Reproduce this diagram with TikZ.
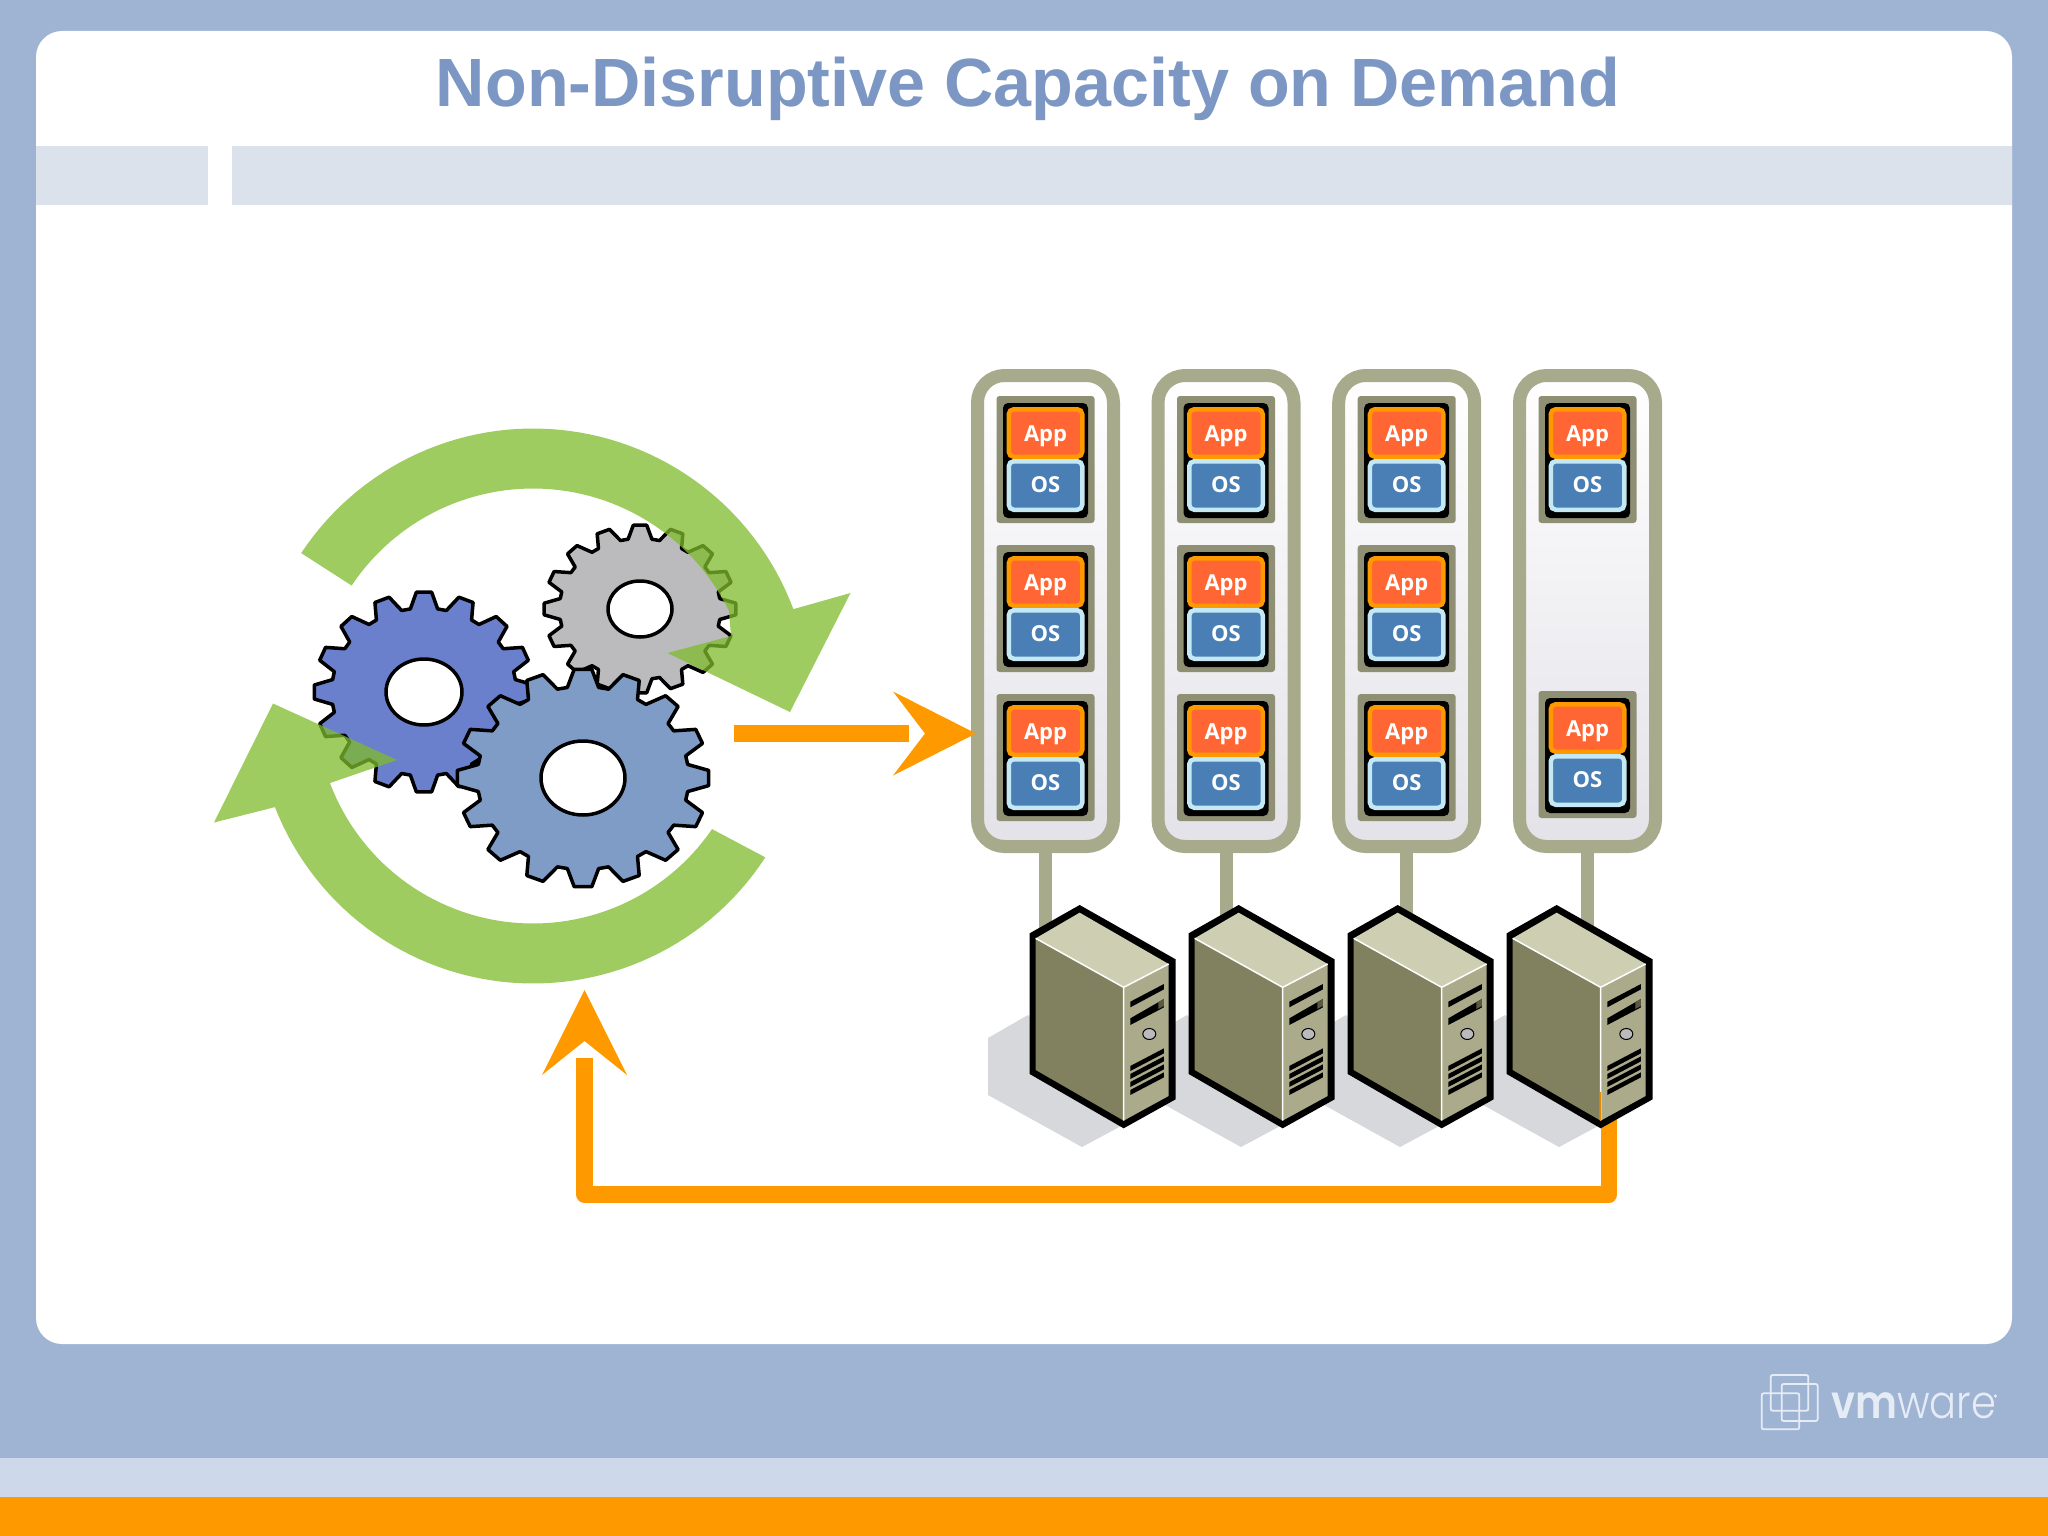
\documentclass[tikz,border=0pt]{standalone}
\usepackage{fontspec}
\usepackage{graphicx}
\setmainfont{Liberation Sans}
\newfontfamily\boxfont{Open Sans}
\newfontfamily\logofont{Poppins}[UprightFont=*-Light,BoldFont=*-SemiBold]
\usetikzlibrary{calc}

\definecolor{slide}{HTML}{9FB3D3}
\definecolor{band}{HTML}{DCE2EC}
\definecolor{lowband}{HTML}{CDD8EA}
\definecolor{vmorange}{HTML}{FF9900}
\definecolor{titleblue}{HTML}{7C97C4}
\definecolor{rackline}{HTML}{A8AA8C}
\definecolor{rackbottom}{HTML}{E2E2E8}
\definecolor{modfill}{HTML}{8E8F73}
\definecolor{appfill}{HTML}{FF6633}
\definecolor{osfill}{HTML}{4A7FB5}
\definecolor{osline}{HTML}{C5E8F5}
\definecolor{arrowgreen}{HTML}{80BB2B}
\definecolor{shadowgrey}{HTML}{D6D8DC}
\definecolor{topface}{HTML}{CECFB2}
\definecolor{leftface}{HTML}{81805F}
\definecolor{rightface}{HTML}{ABAB8C}
\definecolor{logoline}{HTML}{E6ECF6}
\definecolor{cogdark}{HTML}{6A80CC}
\definecolor{coglight}{HTML}{7F9CC6}
\definecolor{coggrey}{HTML}{BBBBBD}

\tikzset{
  rack/.style={draw=rackline,line width=13pt,rounded corners=27pt,top color=white,bottom color=rackbottom,
    minimum width=136pt,minimum height=471pt,inner sep=0pt},
  module/.style={fill=modfill,rounded corners=3pt,minimum width=98pt,minimum height=127pt,inner sep=0pt},
  frame/.style={fill=black,rounded corners=5pt,minimum width=85pt,minimum height=115pt,inner sep=0pt},
  app/.style={draw=vmorange,fill=appfill,line width=4.5pt,rounded corners=5pt,text=white,inner sep=0pt,
    minimum width=73.5pt,text depth=15.75pt,text height=31.75pt,font=\boxfont\fontsize{22}{22}\selectfont\bfseries},
  os/.style={draw=osline,fill=osfill,line width=4.5pt,rounded corners=5pt,text=white,inner sep=0pt,
    minimum width=73.5pt,text depth=17pt,text height=31.5pt,font=\boxfont\fontsize{22}{22}\selectfont\bfseries},
  stem/.style={draw=rackline,line width=13pt},
  flow/.style={draw=vmorange,line width=16.5pt,line join=round},
  cog/.style={draw=black,line width=3.5pt,line join=round},
  cycle arrow/.style={fill=arrowgreen,fill opacity=.75},
  logo/.style={draw=logoline,line width=1.8pt,rounded corners=2pt},
}

% one gear, centre #1,#2, radii #3,#4, hole radii #5,#6, colour #7
\newcommand\cog[7]{%
  \begin{scope}[shift={(#1,#2)},x=#3pt,y=#4pt]
    \filldraw[cog,fill=#7] (-8.5:.84) \foreach \a in {0,22.5,...,337.5} {
      -- ({\a-8.5}:.84) -- ({\a-4}:1) -- ({\a+4}:1) -- ({\a+8.5}:.84)} -- cycle;
  \end{scope}
  \filldraw[cog,fill=white] (#1,#2) ellipse [x radius=#5pt,y radius=#6pt];
}

% shadow of a server, #1 = shift from the rightmost one
\newcommand\srvshadow[1]{%
  \fill[shadowgrey,shift={(#1,0)}] (1505,1015) -- (1465,1038) -- (1465,1095) -- (1559,1147) -- (1600,1125) -- cycle;
}

% one server, #1 = shift from the rightmost one
\newcommand\server[1]{%
  \begin{scope}[shift={(#1,0)},shift={(1450,850)},x=.3333pt,y=-.3333pt]
    \fill[black] (320,165) -- (608,328) -- (608,748) -- (452,835) -- (170,672) -- (170,250) -- cycle;
    \fill[topface] (320,188) -- (587,342) -- (452,412) -- (188,265) -- cycle;
    \fill[leftface] (188,265) -- (452,412) -- (452,812) -- (188,660) -- cycle;
    \fill[rightface] (452,412) -- (587,342) -- (587,738) -- (452,812) -- cycle;
    \draw[white,line width=1.5pt] (188,265) -- (452,412) -- (587,342) (452,412) -- (452,812);
    \fill[black] (472,455) -- (573,402) -- (573,418) -- (472,472) -- cycle;
    \fill[black] (472,505) -- (573,447) -- (573,472) -- (472,525) -- cycle;
    \fill[leftface!70!black] (556,456) -- (573,447) -- (573,468) -- (556,477) -- cycle;
    \filldraw[fill=coggrey,draw=black,line width=1pt] (529,552) ellipse [x radius=6.5pt,y radius=5.5pt];
    \foreach \d in {0,24,48,72}
      \fill[black] (472,648+\d) -- (573,595+\d) -- (573,610+\d) -- (472,663+\d) -- cycle;
  \end{scope}
}

\begin{document}
\begin{tikzpicture}[x=1pt,y=-1pt]
  \useasboundingbox (0,0) rectangle (2048,1536);
  % slide background
  \fill[slide] (0,0) rectangle (2048,1536);
  \fill[lowband] (0,1458) rectangle (2048,1497);
  \fill[vmorange] (0,1497) rectangle (2048,1536);
  \fill[white,rounded corners=26pt] (36,31) rectangle (2012,1344);
  \fill[band] (36,146) rectangle (208,205);
  \fill[band] (232,146) rectangle (2012,205);
  \node[anchor=base,text=titleblue,font=\fontsize{68.3}{70}\selectfont\bfseries,inner sep=0pt] (title) at (1028,107) {Non-Disruptive Capacity on Demand};

  % gears and the two green arrows
  \cog{424}{692}{110}{100}{38}{33}{cogdark}
  \cog{640}{609}{96}{84}{32}{28}{coggrey}
  \cog{583}{778}{126}{109}{42}{37}{coglight}

  \fill[cycle arrow] plot[domain=146.5:20.5,samples=60] ({533+278*cos(\x)},{706.5-278*sin(\x)})
    -- (850.5,593) -- (790,712) -- (667.5,653) -- (731,636)
    -- plot[domain=26:146.3,samples=60] ({533+218*cos(\x)},{706.5-218*sin(\x)}) -- cycle;
  \fill[cycle arrow] plot[domain=-33:-158.7,samples=60] ({533+277*cos(\x)},{706.5-277*sin(\x)})
    -- (214,822.5) -- (273,703.5) -- (397,760) -- (330,783)
    -- plot[domain=-159.4:-34.4,samples=60] ({533+217*cos(\x)},{706.5-217*sin(\x)}) -- cycle;

  % racks with their modules
  \foreach \c/\x/\tops in {1/1045.5/{396,545,694},2/1226/{396,545,694},3/1406.7/{396,545,694},4/1587.5/{396,691}} {
    \node[rack] (rack\c) at (\x,611) {};
    \coordinate (srv\c) at (\x,945);
    \draw[stem] (rack\c.south) -- (srv\c);
    \foreach \t in \tops {
      \node[module] (mod\c-\t) at (\x,\t+63.5) {};
      \node[frame] (frm\c-\t) at (\x,\t+64.5) {};
      \node[app] (app\c-\t) at (\x,\t+37) {App};
      \node[os] (os\c-\t) at (\x,\t+89.5) {OS};
    }
  }

  \foreach \s in {-477,-318,-159,0} {\srvshadow{\s}}

  % orange connectors, the heads stand apart from the shafts
  \coordinate (flowstart) at (734,733.5);
  \coordinate (flowneck) at (909,733.5);
  \coordinate (flowend) at (976,733.5);
  \draw[flow] (flowstart) -- (flowneck);
  \fill[vmorange] (flowend) -- ++(-83,-42) -- ++(32,42) -- ++(-32,42) -- cycle;
  \coordinate (srvfoot) at (1609,1110);
  \coordinate (cycleneck) at (584.5,1058);
  \coordinate (cycleend) at (584.5,990);
  \draw[flow] (srvfoot) -- (1609,1194.5) -- (584.5,1194.5) -- (cycleneck);
  \fill[vmorange] (cycleend) -- ++(-42.5,85) -- ++(42.5,-34) -- ++(42.5,34) -- cycle;

  \foreach \s in {-477,-318,-159,0} {\server{\s}}
  % the last server's front edge picks up the orange line
  \draw[vmorange!90!black,line width=1.5pt] (1600.7,1091.7) -- (1600.7,1120.7);

  % logo
  \begin{scope}[shift={(1720,1340)},x=.3333pt,y=-.3333pt]
    \draw[logo] (152,105) rectangle (265,212);
    \draw[logo] (185,132) rectangle (293,243);
    \draw[logo] (125,160) rectangle (238,268);
    \fill[logoline] (826,168) circle [radius=1.8pt];
  \end{scope}
  \node[anchor=base west,inner sep=0pt,text=logoline,font=\logofont\fontsize{46}{46}\selectfont] (vmw) at (1831,1418) {\scalebox{.87}[1]{\textbf{vm}ware}};
\end{tikzpicture}
\end{document}
